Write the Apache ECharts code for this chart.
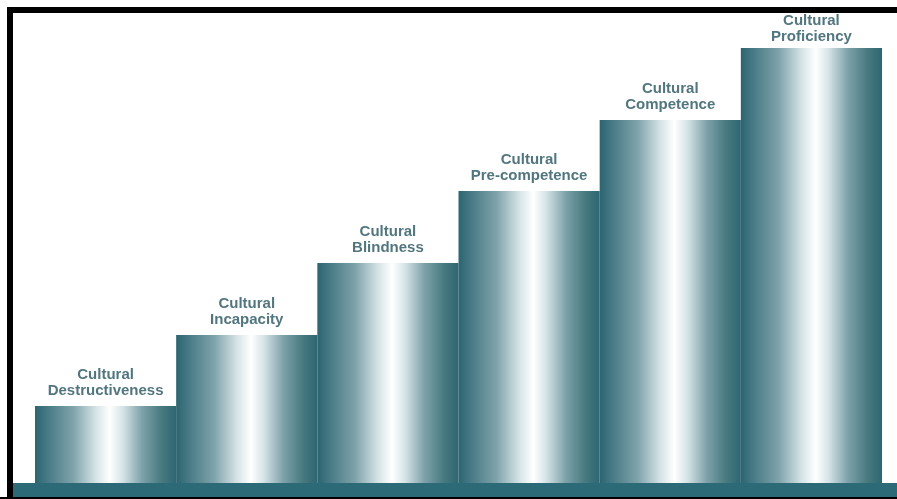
<!DOCTYPE html>
<html>
<head>
<meta charset="utf-8">
<script src="https://cdn.jsdelivr.net/npm/echarts@6/dist/echarts.min.js"></script>
<style>
html,body{margin:0;padding:0;background:#fff;}
#chart{width:897px;height:499px;}
</style>
</head>
<body>
<div id="chart"></div>
<script>
var categories = ['Cultural Destructiveness','Cultural Incapacity','Cultural Blindness','Cultural Pre-competence','Cultural Competence','Cultural Proficiency'];
var values = [77, 148, 220, 292, 363, 435];

var chart = echarts.init(document.getElementById('chart'));
var grad = new echarts.graphic.LinearGradient(0, 0, 1, 0, [
  {offset: 0, color: '#2b6470'},
  {offset: 0.05, color: '#3b717d'},
  {offset: 0.27, color: '#7fa3ab'},
  {offset: 0.43, color: '#d5e3e6'},
  {offset: 0.53, color: '#ffffff'},
  {offset: 0.62, color: '#d6e4e7'},
  {offset: 0.76, color: '#7da1a9'},
  {offset: 0.9, color: '#46797f'},
  {offset: 1, color: '#2e6672'}
]);
var seriesData = values.map(function (v, i) {
  var d = {value: v};
  if (i === values.length - 1) { d.label = {distance: 3}; }
  return d;
});
chart.setOption({
  animation: false,
  backgroundColor: '#ffffff',
  grid: {left: 35, right: 15, top: 13, bottom: 16},
  xAxis: {
    type: 'category',
    data: categories,
    show: false,
    boundaryGap: true
  },
  yAxis: {type: 'value', min: 0, max: 470, show: false},
  series: [{
    type: 'bar',
    data: seriesData,
    barCategoryGap: '0%',
    itemStyle: {color: grad},
    label: {
      show: true,
      position: 'top',
      distance: 7,
      color: '#52767f',
      fontFamily: 'Liberation Sans, Arial, sans-serif',
      fontSize: 15,
      fontWeight: 'bold',
      lineHeight: 16,
      formatter: function (p) { return p.name.replace(' ', '\n'); }
    }
  }],
  graphic: [
    {type: 'rect', shape: {x: 13, y: 483, width: 884, height: 14}, style: {fill: '#2d6a77'}, z: 10},
    {type: 'rect', shape: {x: 0, y: 497, width: 897, height: 2}, style: {fill: '#000'}, z: 10},
    {type: 'rect', shape: {x: 7, y: 7, width: 890, height: 6}, style: {fill: '#000'}, z: 10},
    {type: 'rect', shape: {x: 7, y: 7, width: 6, height: 492}, style: {fill: '#000'}, z: 10}
  ]
});
</script>
</body>
</html>
